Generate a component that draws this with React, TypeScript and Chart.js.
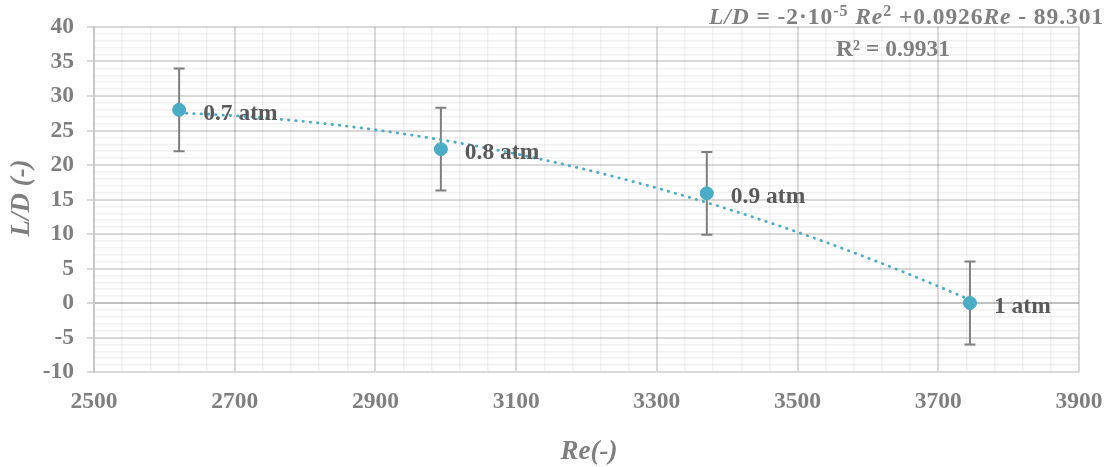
import React, { useEffect, useRef } from 'react';
import { Chart, registerables } from 'chart.js';

Chart.register(...registerables);

// ---- data ----
const reynolds: number[] = [2621, 2993, 3371, 3745];
const ratioLD: number[] = [28.0, 22.3, 15.9, 0.0];
const errorLD: number[] = [6, 6, 6, 6];
const pressureLabels: string[] = ['0.7 atm', '0.8 atm', '0.9 atm', '1 atm'];

const xMin = 2500;
const xMax = 3900;
const xMajor = 200;
const xMinor = 40;
const yMin = -10;
const yMax = 40;
const yMajor = 5;
const yMinor = 1;

const xTitle = 'Re(-)';
const yTitle = 'L/D (-)';
const equationParts: { t: string; it?: boolean; sup?: boolean }[] = [
  { t: 'L/D', it: true },
  { t: ' = -2·10' },
  { t: '-5', sup: true },
  { t: ' ' },
  { t: 'Re', it: true },
  { t: '2', sup: true },
  { t: ' +0.0926' },
  { t: 'Re', it: true },
  { t: ' - 89.301' },
];
const rSquaredText = 'R² = 0.9931';

// ---- colours / fonts ----
const SERIES = '#4bacc6';
const GREY_TEXT = '#7f7f7f';
const LABEL_TEXT = '#595959';
const ERR = '#7f7f7f';
const GRID_MAJOR = 'rgba(0,0,0,0.15)';
const GRID_MINOR = 'rgba(0,0,0,0.055)';
const FAMILY = '"Liberation Serif", "Times New Roman", serif';
const FS = 23.5;

// least squares quadratic fit of the data (Excel polynomial trendline)
function quadFit(xs: number[], ys: number[]) {
  const x0 = xs.reduce((a, b) => a + b, 0) / xs.length;
  const S = [0, 0, 0, 0, 0];
  const T = [0, 0, 0];
  xs.forEach((x, i) => {
    const u = (x - x0) / 100;
    for (let k = 0; k < 5; k++) S[k] += Math.pow(u, k);
    for (let k = 0; k < 3; k++) T[k] += ys[i] * Math.pow(u, k);
  });
  const M = [
    [S[0], S[1], S[2], T[0]],
    [S[1], S[2], S[3], T[1]],
    [S[2], S[3], S[4], T[2]],
  ];
  for (let c = 0; c < 3; c++) {
    for (let r = c + 1; r < 3; r++) {
      const f = M[r][c] / M[c][c];
      for (let k = c; k < 4; k++) M[r][k] -= f * M[c][k];
    }
  }
  const sol = [0, 0, 0];
  for (let r = 2; r >= 0; r--) {
    let s = M[r][3];
    for (let k = r + 1; k < 3; k++) s -= M[r][k] * sol[k];
    sol[r] = s / M[r][r];
  }
  return (x: number) => {
    const u = (x - x0) / 100;
    return sol[0] + sol[1] * u + sol[2] * u * u;
  };
}

const fit = quadFit(reynolds, ratioLD);
const trendPts: { x: number; y: number }[] = [];
{
  const a = Math.min(...reynolds);
  const b = Math.max(...reynolds);
  const n = 80;
  for (let i = 0; i <= n; i++) {
    const x = a + ((b - a) * i) / n;
    trendPts.push({ x, y: fit(x) });
  }
}

const isXMajor = (v: number) => Math.abs((v - xMin) % xMajor) < 1e-6;
const isYMajor = (v: number) => Math.abs((v - yMin) % yMajor) < 1e-6;

const overlayPlugin = {
  id: 'overlay',
  beforeDatasetsDraw(chart: any) {
    const ctx = chart.ctx;
    const xs = chart.scales.x;
    const ys = chart.scales.y;
    ctx.save();
    ctx.strokeStyle = ERR;
    ctx.lineWidth = 2;
    reynolds.forEach((r, i) => {
      const px = xs.getPixelForValue(r);
      const top = ys.getPixelForValue(ratioLD[i] + errorLD[i]);
      const bot = ys.getPixelForValue(ratioLD[i] - errorLD[i]);
      ctx.beginPath();
      ctx.moveTo(px, top);
      ctx.lineTo(px, bot);
      ctx.moveTo(px - 5.5, top);
      ctx.lineTo(px + 5.5, top);
      ctx.moveTo(px - 5.5, bot);
      ctx.lineTo(px + 5.5, bot);
      ctx.stroke();
    });
    ctx.restore();
  },
  afterDraw(chart: any) {
    const ctx = chart.ctx;
    const xs = chart.scales.x;
    const ys = chart.scales.y;
    ctx.save();
    // data labels
    ctx.fillStyle = LABEL_TEXT;
    ctx.font = `bold ${FS}px ${FAMILY}`;
    ctx.textAlign = 'left';
    ctx.textBaseline = 'alphabetic';
    reynolds.forEach((r, i) => {
      const px = xs.getPixelForValue(r);
      const py = ys.getPixelForValue(ratioLD[i]);
      ctx.fillText(pressureLabels[i], px + 24, py + 10);
    });

    // axis titles
    ctx.fillStyle = GREY_TEXT;
    ctx.font = `italic bold 27px ${FAMILY}`;
    ctx.textAlign = 'center';
    ctx.textBaseline = 'middle';
    ctx.fillText(xTitle, 589, 452);
    ctx.save();
    ctx.translate(22, 198);
    ctx.rotate(-Math.PI / 2);
    ctx.fillText(yTitle, 0, 0);
    ctx.restore();

    // equation
    const fontFor = (p: { it?: boolean; sup?: boolean }) =>
      `${p.it ? 'italic ' : ''}bold ${p.sup ? 16 : FS}px ${FAMILY}`;
    let total = 0;
    equationParts.forEach((p) => {
      ctx.font = fontFor(p);
      total += ctx.measureText(p.t).width;
    });
    const target = 395;
    const chars = equationParts.reduce((n, p) => n + p.t.length, 0);
    const extra = (target - total) / chars;
    let cx = 1104 - target;
    ctx.textAlign = 'left';
    ctx.textBaseline = 'alphabetic';
    equationParts.forEach((p) => {
      ctx.font = fontFor(p);
      for (const ch of p.t) {
        ctx.fillText(ch, cx, p.sup ? 16 : 24);
        cx += ctx.measureText(ch).width + extra;
      }
    });
    ctx.font = `bold ${FS}px ${FAMILY}`;
    ctx.textAlign = 'center';
    ctx.fillText(rSquaredText, 893, 56);
    ctx.restore();
  },
};

export default function App() {
  const ref = useRef<HTMLCanvasElement | null>(null);
  useEffect(() => {
    if (!ref.current) return;
    const tickFont = { family: FAMILY, size: FS, weight: 'bold' as const };
    const chart = new Chart(ref.current, {
      type: 'scatter',
      data: {
        datasets: [
          {
            label: 'L/D',
            data: reynolds.map((x, i) => ({ x, y: ratioLD[i] })),
            backgroundColor: SERIES,
            borderColor: SERIES,
            pointRadius: 6.5,
            pointHoverRadius: 6.5,
            showLine: false,
          },
          {
            label: 'trend',
            data: trendPts,
            showLine: true,
            borderColor: SERIES,
            borderWidth: 2.8,
            borderDash: [0.5, 6.8],
            borderCapStyle: 'round',
            pointRadius: 0,
            fill: false,
            tension: 0,
          } as any,
        ],
      },
      options: {
        responsive: false,
        animation: false,
        events: [],
        layout: { padding: { top: 27, right: 31, left: 0, bottom: 0 } },
        plugins: {
          legend: { display: false },
          tooltip: { enabled: false },
        },
        scales: {
          x: {
            type: 'linear',
            min: xMin,
            max: xMax,
            afterFit: (s: any) => {
              s.height = 95;
              s.paddingLeft = 0;
              s.paddingRight = 0;
            },
            border: { display: true, color: '#d9d9d9', width: 2 },
            grid: {
              drawTicks: false,
              color: (c: any) => (c.tick && isXMajor(c.tick.value) ? GRID_MAJOR : GRID_MINOR),
              lineWidth: (c: any) => (c.tick && isXMajor(c.tick.value) ? 2 : 1.5),
            },
            ticks: {
              stepSize: xMinor,
              autoSkip: false,
              maxRotation: 0,
              minRotation: 0,
              padding: 16,
              maxTicksLimit: 200,
              color: GREY_TEXT,
              font: tickFont,
              callback: (v: any) => (isXMajor(Number(v)) ? String(v) : ''),
            },
          },
          y: {
            type: 'linear',
            min: yMin,
            max: yMax,
            afterFit: (s: any) => {
              s.width = 94;
              s.paddingTop = 0;
              s.paddingBottom = 0;
            },
            border: { display: true, color: '#c8c8c8', width: 2 },
            grid: {
              drawTicks: true,
              tickLength: 7,
              color: (c: any) => {
                const v = c.tick ? c.tick.value : 1;
                if (v === 0) return 'rgba(0,0,0,0.25)';
                return isYMajor(v) ? GRID_MAJOR : GRID_MINOR;
              },
              tickColor: (c: any) => (c.tick && isYMajor(c.tick.value) ? '#d9d9d9' : 'rgba(0,0,0,0)'),
              lineWidth: (c: any) => (c.tick && isYMajor(c.tick.value) ? 2 : 1.5),
            },
            ticks: {
              stepSize: yMinor,
              autoSkip: false,
              padding: 13,
              maxTicksLimit: 200,
              color: GREY_TEXT,
              font: tickFont,
              callback: (v: any) => (isYMajor(Number(v)) ? String(v) : ''),
            },
          },
        },
      },
      plugins: [overlayPlugin],
    });
    return () => chart.destroy();
  }, []);
  return (
    <div style={{ position: 'absolute', left: 0, top: 0, width: 1110, height: 467, background: '#fff' }}>
      <canvas ref={ref} width={1110} height={467} style={{ width: 1110, height: 467 }} />
    </div>
  );
}
